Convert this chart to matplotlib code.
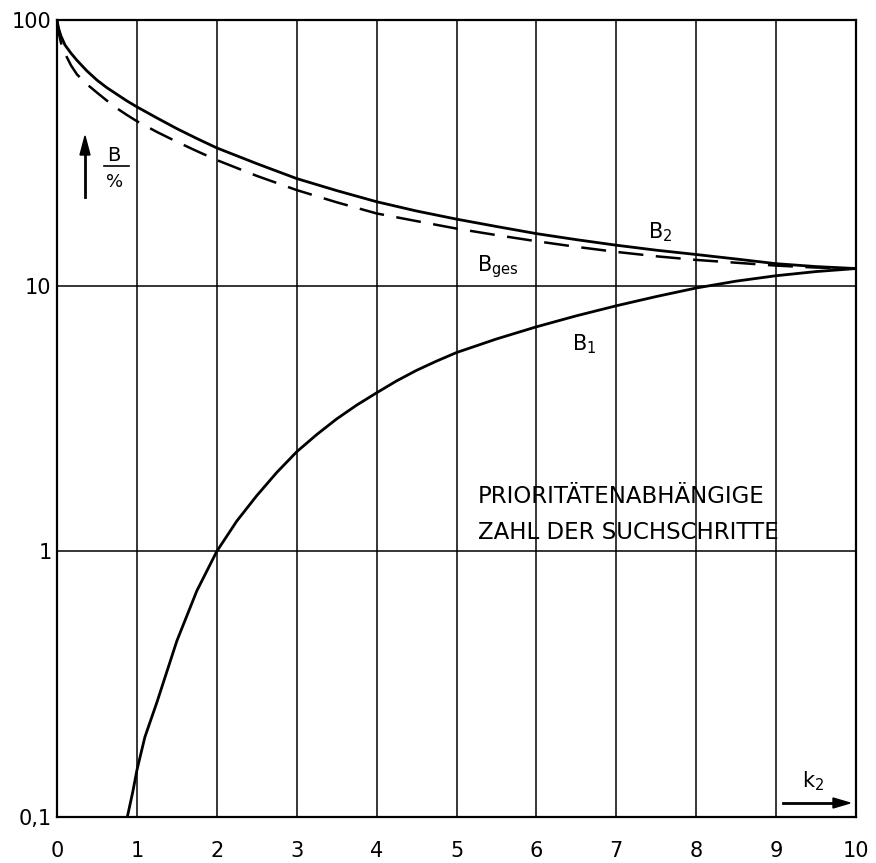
import matplotlib
matplotlib.use("Agg")
import matplotlib.pyplot as plt
from matplotlib.ticker import FixedLocator, NullLocator

plt.rcParams['font.family'] = ['DejaVu Sans']

# priority-dependent number of search steps, B in % over k2
k_b1 = [0.88, 0.95, 1.0, 1.1, 1.25, 1.5, 1.75, 2.0, 2.25, 2.5, 2.75, 3.0, 3.25,
        3.5, 3.75, 4.0, 4.25, 4.5, 4.75, 5.0, 5.5, 6.0, 6.5, 7.0, 7.5, 8.0,
        8.5, 9.0, 9.5, 10.0]
b1 = [0.10, 0.125, 0.15, 0.20, 0.27, 0.46, 0.71, 1.0, 1.3, 1.62, 1.98, 2.37,
      2.75, 3.15, 3.55, 3.95, 4.38, 4.8, 5.2, 5.6, 6.3, 7.0, 7.7, 8.4, 9.1,
      9.8, 10.4, 10.9, 11.3, 11.6]

k_b2 = [0.0, 0.02, 0.05, 0.1, 0.175, 0.25, 0.375, 0.5, 0.625, 0.75, 0.875,
        1.0, 1.25, 1.5, 1.75, 2.0, 2.5, 3.0, 3.5, 4.0, 4.5, 5.0, 5.5, 6.0,
        6.5, 7.0, 7.5, 8.0, 8.5, 9.0, 9.5, 10.0]
b2 = [100, 93, 87, 80.5, 75.0, 70.5, 64.3, 59.4, 55.6, 52.5, 49.6, 47.1,
      42.8, 39.0, 35.8, 33.0, 28.8, 25.3, 22.8, 20.7, 19.1, 17.8, 16.7, 15.7,
      14.9, 14.2, 13.6, 13.1, 12.6, 12.1, 11.8, 11.6]

k_bges = k_b2
bges = [100, 90, 82, 74.8, 67.5, 62.4, 57.3, 53.3, 49.7, 46.5, 43.9, 41.6,
        37.9, 34.8, 32.1, 29.7, 25.9, 22.9, 20.6, 18.7, 17.5, 16.4, 15.5, 14.7,
        14.0, 13.4, 12.9, 12.5, 12.2, 11.9, 11.7, 11.6]

x_ticks = list(range(0, 11))
y_ticks = [0.1, 1, 10, 100]
y_tick_labels = ['0,1', '1', '10', '100']

W, H = 876, 863
fig = plt.figure(figsize=(W / 100, H / 100), dpi=100)
ax = fig.add_axes([57 / W, 1 - 817 / H, (856 - 57) / W, (817 - 20) / H])

ax.set_yscale('log')
ax.set_xlim(0, 10)
ax.set_ylim(0.1, 100)

ax.xaxis.set_major_locator(FixedLocator(x_ticks))
ax.xaxis.set_minor_locator(NullLocator())
ax.yaxis.set_major_locator(FixedLocator(y_ticks))
ax.yaxis.set_minor_locator(NullLocator())
ax.set_xticklabels([str(v) for v in x_ticks])
ax.set_yticklabels(y_tick_labels)
ax.tick_params(axis='x', length=0, pad=17, labelsize=15)
ax.tick_params(axis='y', length=0, pad=4, labelsize=15)

ax.grid(True, which='major', color='black', linewidth=1.1)
for s in ax.spines.values():
    s.set_linewidth(1.6)

ax.plot(k_b1, b1, color='black', linewidth=2.0, solid_capstyle='butt')
ax.plot(k_b2, b2, color='black', linewidth=2.0)
ax.plot(k_bges, bges, color='black', linewidth=1.8, linestyle=(0, (10, 5)))

# curve labels
fig.text(648 / W, 1 - 238 / H, r'B$_{\mathregular{2}}$', fontsize=15, va='baseline')
fig.text(477 / W, 1 - 271 / H, r'B$_{\mathregular{ges}}$', fontsize=15, va='baseline')
fig.text(572 / W, 1 - 350 / H, r'B$_{\mathregular{1}}$', fontsize=15, va='baseline')

fig.text(478 / W, 1 - 503 / H, 'PRIORITÄTENABHÄNGIGE', fontsize=16.5, va='baseline')
fig.text(478 / W, 1 - 539 / H, 'ZAHL DER SUCHSCHRITTE', fontsize=16.5, va='baseline')

# y-axis quantity: arrow with B / %
fig.add_artist(plt.Line2D([85 / W, 85 / W], [1 - 197 / H, 1 - 150 / H],
                          color='black', linewidth=2))
fig.patches.append(plt.Polygon([[80 / W, 1 - 155 / H], [90 / W, 1 - 155 / H],
                                [85 / W, 1 - 136 / H]], closed=True,
                               color='black', transform=fig.transFigure))
fig.text(114 / W, 1 - 161 / H, 'B', fontsize=14, ha='center', va='baseline')
fig.add_artist(plt.Line2D([104 / W, 129 / W], [1 - 166 / H, 1 - 166 / H],
                          color='black', linewidth=1.2))
fig.text(115 / W, 1 - 187 / H, '%', fontsize=13, ha='center', va='baseline')

# x-axis quantity: k2 with arrow
fig.text(802 / W, 1 - 787 / H, r'k$_{\mathregular{2}}$', fontsize=15, va='baseline')
fig.add_artist(plt.Line2D([783 / W, 836 / W], [1 - 803 / H, 1 - 803 / H],
                          color='black', linewidth=2))
fig.patches.append(plt.Polygon([[833 / W, 1 - 798 / H], [833 / W, 1 - 808 / H],
                                [850 / W, 1 - 803 / H]], closed=True,
                               color='black', transform=fig.transFigure))

fig.savefig('out.png', dpi=100)
